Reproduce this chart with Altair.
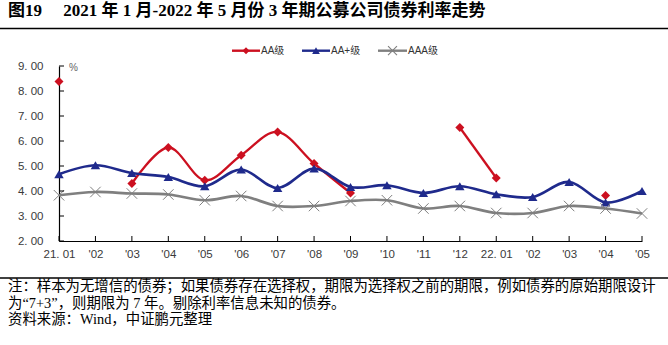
import json
import altair as alt
import pandas as pd

# ---------------- data ----------------
months = ["2021-01", "2021-02", "2021-03", "2021-04", "2021-05", "2021-06",
          "2021-07", "2021-08", "2021-09", "2021-10", "2021-11", "2021-12",
          "2022-01", "2022-02", "2022-03", "2022-04", "2022-05"]
tick_labels = ["21. 01", "'02", "'03", "'04", "'05", "'06", "'07", "'08", "'09",
               "'10", "'11", "'12", "22. 01", "'02", "'03", "'04", "'05"]
aa = [8.38, None, 4.30, 5.74, 4.43, 5.43, 6.36, 5.10, 3.92, None, None,
      6.54, 4.52, None, None, 3.82, None]
aa_plus = [4.67, 5.03, 4.72, 4.56, 4.19, 4.86, 4.12, 4.90, 4.16, 4.23, 3.92,
           4.19, 3.87, 3.76, 4.36, 3.54, 4.00]
aaa = [3.83, 3.96, 3.90, 3.86, 3.63, 3.80, 3.40, 3.40, 3.60, 3.63, 3.30,
       3.40, 3.12, 3.12, 3.40, 3.30, 3.10]
series_names = ["AA级", "AA+级", "AAA级"]
y_ticks = [2, 3, 4, 5, 6, 7, 8, 9]

title_text = "图19\u3000 2021 年 1 月-2022 年 5 月份 3 年期公募公司债券利率走势"
note_lines = [
    "注：样本为无增信的债券；如果债券存在选择权，期限为选择权之前的期限，例如债券的原始期限设计",
    "为“7+3”，则期限为 7 年。剔除利率信息未知的债券。",
    "资料来源：Wind，中证鹏元整理",
]

# ---------------- styles ----------------
colors = {"AA级": "#CC1020", "AA+级": "#1F2A8C", "AAA级": "#7F7F7F"}
W, H = 583, 175
CJK = "Liberation Serif, Noto Sans CJK SC"
LBL = "Liberation Sans"
LBL_COLOR = "#3a3a3a"
XSHAPE = "M-1,-1L1,1M-1,1L1,-1"

rows = []
for name, vals in zip(series_names, [aa, aa_plus, aaa]):
    seg = 0
    gap = True
    for i, (m, v) in enumerate(zip(months, vals)):
        if v is None:
            gap = True
            continue
        if gap:
            seg += 1
        gap = False
        rows.append({"month": m, "idx": i, "series": name, "value": v,
                     "seg": f"{name}-{seg}"})
df = pd.DataFrame(rows)

xscale = alt.Scale(domain=[0, len(months) - 1], nice=False, zero=False)
yscale = alt.Scale(domain=[2, 9], nice=False, zero=False)
cscale = alt.Scale(domain=series_names, range=[colors[s] for s in series_names])

x_axis = alt.Axis(values=list(range(len(months))),
                  labelExpr=json.dumps(tick_labels) + "[datum.value]",
                  title=None, grid=False, tickSize=0, labelPadding=7,
                  domainColor="#000000", domainWidth=1.2,
                  labelFont=LBL, labelFontSize=11.5, labelColor=LBL_COLOR,
                  labelFlush=False, labelOverlap=False)
y_axis = alt.Axis(values=y_ticks,
                  labelExpr="replace(format(datum.value, '.2f'), '.', '. ')",
                  title=None, grid=False, tickSize=0, labelPadding=16,
                  domainColor="#000000", domainWidth=1.2,
                  labelFont=LBL, labelFontSize=11.5, labelColor=LBL_COLOR)
x_enc = alt.X("idx:Q", scale=xscale, axis=x_axis)
y_enc = alt.Y("value:Q", scale=yscale, axis=y_axis)

base = alt.Chart(df)
layers = []

# lines + markers, drawn in series order (AA, AA+, AAA)
for name in series_names:
    sub = base.transform_filter(alt.datum.series == name)
    sw = 2.3 if name == "AA级" else 2.7
    layers.append(sub.mark_line(interpolate="cardinal", strokeWidth=sw).encode(
        x=x_enc, y=y_enc, detail="seg:N",
        color=alt.Color("series:N", scale=cscale, legend=None)))
    if name == "AA级":
        pt = sub.mark_point(shape="diamond", filled=True, size=80, opacity=1)
    elif name == "AA+级":
        pt = sub.mark_point(shape="triangle-up", filled=True, size=90, opacity=1)
    else:
        pt = sub.mark_point(shape=XSHAPE, filled=False, size=110, strokeWidth=1.0, opacity=1)
    layers.append(pt.encode(x=x_enc, y=y_enc,
                            color=alt.Color("series:N", scale=cscale, legend=None)))

# inward tick marks
yt = alt.Chart(pd.DataFrame({"value": y_ticks})).mark_rule(color="#000000", strokeWidth=1).encode(
    y=y_enc, x=alt.value(0), x2=alt.value(5))
xt = alt.Chart(pd.DataFrame({"idx": list(range(len(months)))})).mark_rule(
    color="#000000", strokeWidth=1).encode(
    x=x_enc, y=alt.value(H), y2=alt.value(H - 5))
layers += [yt, xt]

one = alt.Data(values=[{"a": 1}])

def deco_text(txt, x, y, size, font=CJK, weight="normal", color="#000000", align="left"):
    return alt.Chart(one).mark_text(text=txt, align=align, baseline="middle", font=font,
                                    fontSize=size, fontWeight=weight, color=color).encode(
        x=alt.value(x), y=alt.value(y))

def deco_rule(x1, x2, y, color="#000000", width=1.0):
    return alt.Chart(one).mark_rule(color=color, strokeWidth=width).encode(
        x=alt.value(x1), x2=alt.value(x2), y=alt.value(y))

# unit label
layers.append(deco_text("%", 10, 2, 10, font=LBL, color="#666666"))

# title and rules
layers.append(deco_text(title_text, -51, -55, 17, weight="bold"))
layers.append(deco_rule(-59, 609, -37.5, width=1.3))
layers.append(deco_rule(-59, 609, 212, width=1.3))

# notes
for k, line in enumerate(note_lines):
    layers.append(deco_text(line, -51, [221, 237.5, 253.5][k], 14.4))

# legend
legend_pos = {"AA级": (173, 201), "AA+级": (243, 271), "AAA级": (319, 348)}
legend_shape = {"AA级": ("diamond", True, 50), "AA+级": ("triangle-up", True, 60),
                "AAA级": (XSHAPE, False, 80)}
for name in series_names:
    x1, x2 = legend_pos[name]
    c = colors[name]
    layers.append(deco_rule(x1, x2, -15.3, color=c, width=2.4))
    shp, fill, sz = legend_shape[name]
    if fill:
        mk = alt.Chart(one).mark_point(shape=shp, filled=True, size=sz, color=c, opacity=1)
    else:
        mk = alt.Chart(one).mark_point(shape=shp, filled=False, size=sz, color=c,
                                       strokeWidth=1.1, opacity=1)
    layers.append(mk.encode(x=alt.value((x1 + x2) / 2), y=alt.value(-15.3)))
    layers.append(deco_text(name, x2 + 1, -15.3, 10, font="Liberation Sans, Noto Sans CJK SC",
                            color="#333333"))

chart = alt.layer(*layers).properties(
    width=W, height=H,
    padding={"left": 59, "top": 66, "right": 668 - 59 - W, "bottom": 345 - 66 - H},
    autosize=alt.AutoSizeParams(type="none"),
    background="#ffffff",
).configure_view(stroke=None)

chart.save("out.html", embed_options={"renderer": "svg", "actions": False})
